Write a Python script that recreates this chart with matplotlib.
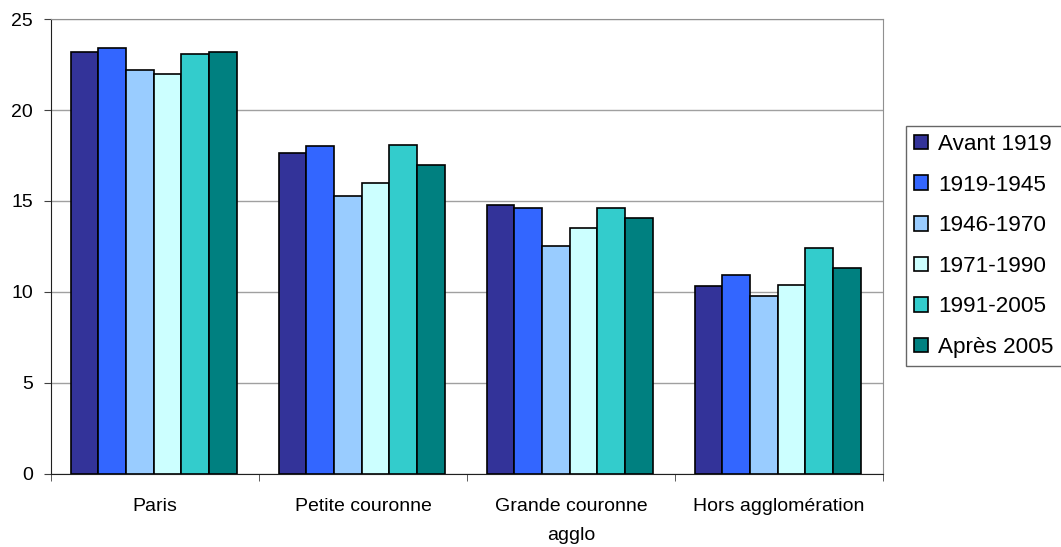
import matplotlib
matplotlib.use("Agg")
import matplotlib.pyplot as plt
import numpy as np

plt.rcParams['font.family'] = ['Liberation Sans', 'DejaVu Sans']

categories = ["Paris", "Petite couronne", "Grande couronne\nagglo", "Hors agglomération"]
series_names = ["Avant 1919", "1919-1945", "1946-1970", "1971-1990", "1991-2005", "Après 2005"]
avant_1919 = [23.2, 17.65, 14.8, 10.3]
p1919_1945 = [23.4, 18.0, 14.6, 10.95]
p1946_1970 = [22.2, 15.25, 12.5, 9.75]
p1971_1990 = [22.0, 16.0, 13.5, 10.4]
p1991_2005 = [23.1, 18.1, 14.6, 12.4]
apres_2005 = [23.2, 17.0, 14.05, 11.3]
yticks = [0, 5, 10, 15, 20, 25]

series = [avant_1919, p1919_1945, p1946_1970, p1971_1990, p1991_2005, apres_2005]
colors = ["#333399", "#3366FF", "#99CCFF", "#CCFFFF", "#33CCCC", "#008080"]

W, H = 1061, 547
fig = plt.figure(figsize=(W/100, H/100), dpi=100)
ax = fig.add_axes([51/W, 1-473.5/H, (883-51)/W, (473.5-19.3)/H])

n = len(series)
group_w = 0.80
bw = group_w / n
x = np.arange(len(categories))
for i, (vals, c, name) in enumerate(zip(series, colors, series_names)):
    ax.bar(x - group_w/2 + bw*(i+0.5) - 0.006, vals, width=bw, color=c, edgecolor="black",
           linewidth=1.2, label=name, zorder=3)

ax.set_xlim(-0.5, len(categories)-0.5)
ax.set_ylim(0, 25)
ax.set_yticks(yticks)
ax.set_yticklabels([str(t) for t in yticks], fontsize=14)
ax.yaxis.grid(True, color="#A0A0A0", linewidth=1.0, zorder=0)
ax.set_axisbelow(True)

ax.set_xticks(x)
ax.set_xticklabels(categories, fontsize=14, linespacing=1.9)
ax.tick_params(axis='x', length=0, pad=17.5)
ax.set_xticks(np.arange(-0.5, len(categories)), minor=True)
ax.tick_params(axis='x', which='minor', length=5, direction='out', color="#404040")
ax.tick_params(axis='y', length=5, direction='out', color="#404040", pad=8)

for s in ["top", "right"]:
    ax.spines[s].set_color("#909090")
for s in ["left", "bottom"]:
    ax.spines[s].set_color("#202020")

leg = ax.legend(loc="upper left", bbox_to_anchor=(905.5/W, 1-125.5/H),
                bbox_transform=fig.transFigure, frameon=True, fancybox=False,
                fontsize=16.2, handlelength=0.62, handleheight=0.62, handletextpad=0.44,
                labelspacing=0.87, borderpad=0.38, borderaxespad=0)
leg.get_frame().set_edgecolor("#404040")
leg.get_frame().set_linewidth(1.0)

fig.savefig("out.png", dpi=100)
